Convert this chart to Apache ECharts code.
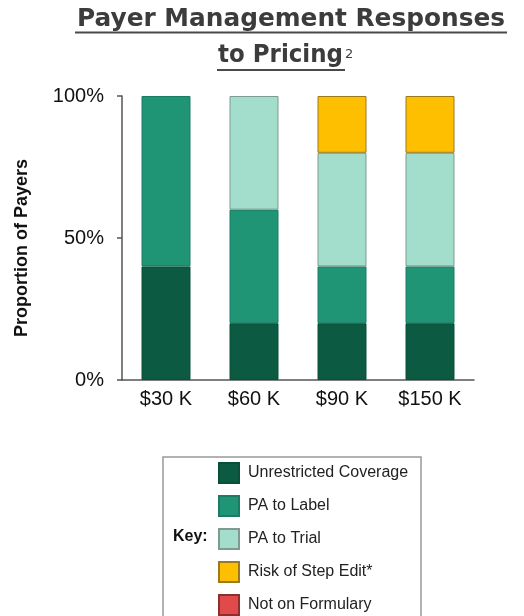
<!DOCTYPE html>
<html>
<head>
<meta charset="utf-8">
<script src="https://cdn.jsdelivr.net/npm/echarts@6/dist/echarts.min.js"></script>
<style>
html,body{margin:0;padding:0;background:#fff;}
#main{width:524px;height:616px;}
</style>
</head>
<body>
<div id="main"></div>
<script>
var categories = ['$30 K', '$60 K', '$90 K', '$150 K'];
var unrestricted = [40, 20, 20, 20];
var paToLabel = [60, 40, 20, 20];
var paToTrial = [0, 40, 40, 40];
var stepEdit = [0, 0, 20, 20];
var notOnFormulary = [0, 0, 0, 0];
var yTicks = [0, 50, 100];
var titleLine1 = 'Payer Management Responses';
var titleLine2 = 'to Pricing';

var seriesDefs = [
  {name: 'Unrestricted Coverage', data: unrestricted, color: '#0b5a41', border: '#0a4f39'},
  {name: 'PA to Label', data: paToLabel, color: '#1f9576', border: '#1a7d63'},
  {name: 'PA to Trial', data: paToTrial, color: '#a3decc', border: '#7f9a90'},
  {name: 'Risk of Step Edit*', data: stepEdit, color: '#fdbf00', border: '#9a7a20'},
  {name: 'Not on Formulary', data: notOnFormulary, color: '#e04a4a', border: '#8a3030'}
];

var titleFont = 'bold 24px "DejaVu Sans", sans-serif';
var ctx = document.createElement('canvas').getContext('2d');
ctx.font = titleFont;
var w1 = ctx.measureText(titleLine1).width;
var w2 = ctx.measureText(titleLine2).width;
var sx1 = 428 / w1;
var sx2 = 125 / w2;

var chart = echarts.init(document.getElementById('main'));
var font = 'Liberation Sans, Arial, sans-serif';
chart.setOption({
  animation: false,
  grid: {left: 122, right: 50, top: 96, bottom: 236},
  legend: {
    orient: 'vertical',
    left: 218, top: 462, height: 200, padding: 0,
    itemWidth: 20, itemHeight: 20, itemGap: 11,
    icon: 'rect',
    selectedMode: false,
    textStyle: {fontFamily: font, fontSize: 16, color: '#222', padding: [0,0,0,4]},
    data: seriesDefs.map(function(s){ return s.name; })
  },
  xAxis: {
    type: 'category',
    data: categories,
    axisLine: {lineStyle: {color: '#555', width: 1.5}},
    axisTick: {show: false},
    axisLabel: {fontFamily: font, fontSize: 20, color: '#111', margin: 9}
  },
  yAxis: {
    type: 'value',
    min: 0, max: 100, interval: 50,
    axisLine: {show: true, lineStyle: {color: '#555', width: 1.5}},
    axisTick: {show: true, length: 5, lineStyle: {color: '#555', width: 1.5}},
    splitLine: {show: false},
    axisLabel: {fontFamily: font, fontSize: 20, color: '#111', margin: 18,
      formatter: function(v){ return yTicks.indexOf(v) >= 0 ? v + '%' : ''; }}
  },
  series: seriesDefs.map(function(s){
    return {
      name: s.name, type: 'bar', stack: 'total', barWidth: 49,
      data: s.data.map(function(v){ return v === 0 ? null : v; }),
      itemStyle: {color: s.color, borderColor: s.border, borderWidth: 1}
    };
  }),
  graphic: [
    {type: 'text', x: 77, y: 20, scaleX: sx1,
     style: {text: titleLine1, font: titleFont, fill: '#3c3c3c', align: 'left', verticalAlign: 'middle'}},
    {type: 'rect', shape: {x: 75, y: 31.5, width: 432, height: 2}, style: {fill: '#4a4a4a'}},
    {type: 'text', x: 218, y: 56, scaleX: sx2,
     style: {text: titleLine2, font: titleFont, fill: '#3c3c3c', align: 'left', verticalAlign: 'middle'}},
    {type: 'text', x: 345, y: 55,
     style: {text: '2', font: '13px "DejaVu Sans", sans-serif', fill: '#404040', verticalAlign: 'middle'}},
    {type: 'rect', shape: {x: 217, y: 69, width: 128, height: 2}, style: {fill: '#4a4a4a'}},
    {type: 'text', x: 22, y: 248, rotation: Math.PI/2,
     style: {text: 'Proportion of Payers', font: 'bold 18px Liberation Sans, Arial, sans-serif', fill: '#111', align: 'center', verticalAlign: 'middle'}},
    {type: 'rect', shape: {x: 163, y: 457, width: 258, height: 180}, style: {fill: 'none', stroke: '#999', lineWidth: 1.5}},
    {type: 'text', x: 173, y: 537,
     style: {text: 'Key:', font: 'bold 16px Liberation Sans, Arial, sans-serif', fill: '#111', verticalAlign: 'middle'}}
  ]
});
</script>
</body>
</html>
